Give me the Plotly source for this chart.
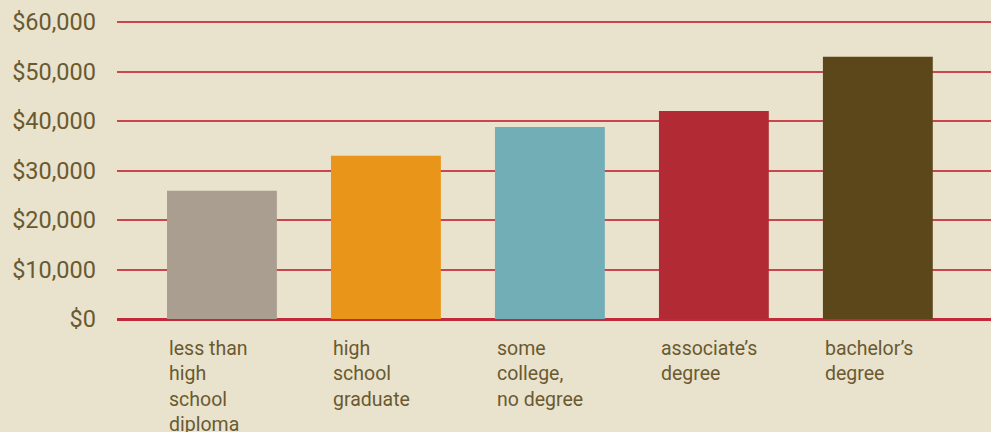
import plotly.graph_objects as go

categories = ["less than<br>high<br>school<br>diploma", "high<br>school<br>graduate",
              "some<br>college,<br>no degree", "associate’s<br>degree", "bachelor’s<br>degree"]
values = [25900, 33000, 38800, 42000, 53000]
colors = ["#A99E90", "#E89519", "#72AEB6", "#B22A33", "#5B471A"]
tick_vals = [0, 10000, 20000, 30000, 40000, 50000, 60000]
tick_text = ["$0", "$10,000", "$20,000", "$30,000", "$40,000", "$50,000", "$60,000"]

bg = "#E9E2CD"
txt = "#6A5A30"
bar_w = 0.67

x_idx = list(range(len(categories)))
fig = go.Figure(go.Bar(x=x_idx, y=values, marker=dict(color=colors, line=dict(width=0)),
                       width=bar_w, hoverinfo="skip"))

for i, c in enumerate(categories):
    fig.add_annotation(x=i - bar_w / 2, y=0, xref="x", yref="y", text=c, showarrow=False,
                       xanchor="left", yanchor="top", align="left", yshift=-16,
                       font=dict(family="Roboto", size=19.5, color=txt))

fig.update_layout(
    width=991, height=432,
    paper_bgcolor=bg, plot_bgcolor=bg,
    margin=dict(l=117, r=0, t=20, b=113),
    showlegend=False,
    bargap=0.33,
    xaxis=dict(range=[-0.64, 4.69], showticklabels=False, showgrid=False, zeroline=False,
               showline=False, fixedrange=True),
    yaxis=dict(range=[0, 60404], tickvals=tick_vals, ticktext=tick_text,
               showgrid=True, gridcolor="#C8474F", gridwidth=1.5,
               zeroline=True, zerolinecolor="#C02A3A", zerolinewidth=2.5,
               showline=False, ticks="", ticklabelstandoff=20,
               tickfont=dict(family="Roboto", size=23.5, color=txt), fixedrange=True),
)

fig.write_html("out.html", config={"displayModeBar": False},
               post_script="document.body.style.margin='0';document.body.style.background='#E9E2CD';")
